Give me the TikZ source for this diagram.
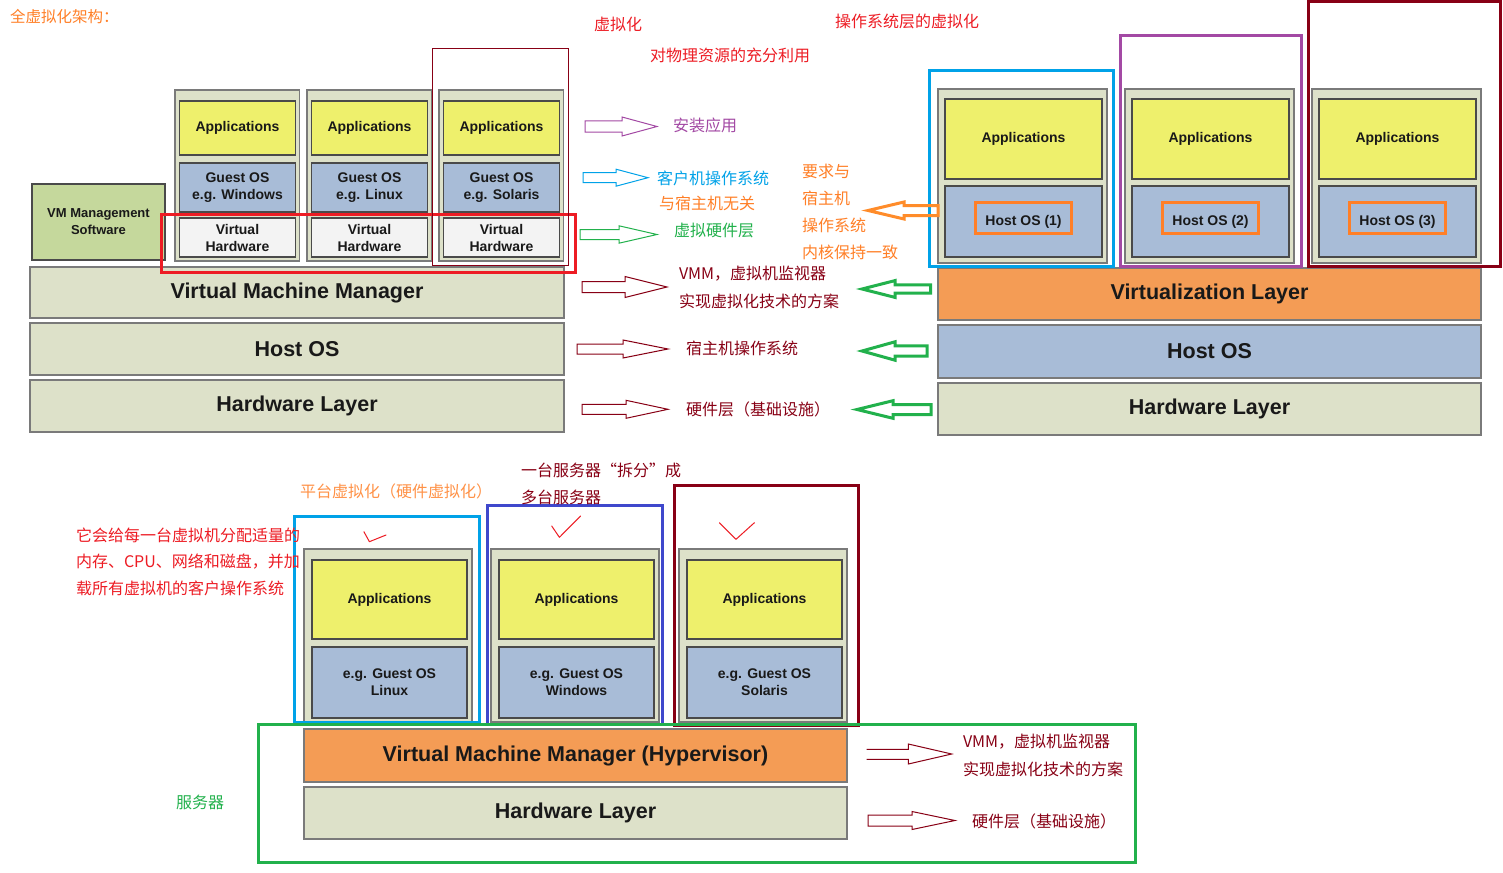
\documentclass[tikz,border=0pt]{standalone}
\usepackage{fontspec}
\setmainfont{Liberation Sans}
\newfontfamily\cjk{Noto Sans CJK SC}
\definecolor{pred}{HTML}{ED1C24}
\definecolor{pdred}{HTML}{880015}
\definecolor{porange}{HTML}{FF7F27}
\definecolor{ptorange}{HTML}{FF8C2A}
\definecolor{pgreen}{HTML}{22B14C}
\definecolor{pblue}{HTML}{00A2E8}
\definecolor{pindigo}{HTML}{3F48CC}
\definecolor{ppurple}{HTML}{A349A4}
\definecolor{cbg}{HTML}{DDE1C9}
\definecolor{cyel}{HTML}{EEF06C}
\definecolor{cblue}{HTML}{A8BCD7}
\definecolor{cwhite}{HTML}{F3F3F3}
\definecolor{corange}{HTML}{F49C55}
\definecolor{cgreenbox}{HTML}{C5D89C}
\definecolor{cgray}{HTML}{7A7A7A}
\definecolor{cdark}{HTML}{4A4A4A}
\newcommand\mybox[7]{\node[#1,anchor=north west,minimum width={(#5)-(#3)},minimum height={(#6)-(#4)}] (#2) at (#3,#4) {#7};}
\newcommand\harrowR[7]{\draw[#1] (#2,#5-#6) -- (#3,#5-#6) -- (#3,#5-#7) -- (#4,#5) -- (#3,#5+#7) -- (#3,#5+#6) -- (#2,#5+#6) -- cycle;}
\newcommand\harrowL[7]{\draw[#1] (#4,#5-#6) -- (#3,#5-#6) -- (#3,#5-#7) -- (#2,#5) -- (#3,#5+#7) -- (#3,#5+#6) -- (#4,#5+#6) -- cycle;}
\newcommand\topleftcol[3]{%
 \mybox{colbox}{#1}{#2}{90}{#2+124.5}{261}{}
 \mybox{appbox}{#1a}{#2+4.5}{101}{#2+120.5}{155}{Applications}
 \mybox{osbox}{#1g}{#2+4.5}{163}{#2+120.5}{212}{Guest OS\\#3}
 \mybox{vhbox}{#1h}{#2+4.5}{218}{#2+120.5}{257}{Virtual\\Hardware}}
\newcommand\toprightcol[3]{%
 \mybox{colbox}{#1}{#2}{89}{#2+169}{263}{}
 \mybox{appbox}{#1a}{#2+7}{99}{#2+164}{179}{Applications}
 \mybox{osbox}{#1g}{#2+7}{186}{#2+164}{257}{Host OS (#3)}
 \mybox{annot,draw=porange}{#1o}{#2+37}{202}{#2+133}{233}{}}
\newcommand\botcol[3]{%
 \mybox{colbox}{#1}{#2}{549}{#2+168}{722}{}
 \mybox{appbox}{#1a}{#2+8}{560}{#2+163}{639}{Applications}
 \mybox{osbox}{#1g}{#2+8}{647}{#2+163}{718}{e.g. Guest OS\\#3}}
\tikzset{
 base/.style={inner sep=0pt,outer sep=0pt,align=center,text=black!90,font=\fontsize{14}{17}\selectfont\bfseries},
 colbox/.style={base,draw=cgray,line width=1.5pt,fill=cbg},
 appbox/.style={base,draw=cdark,line width=1.5pt,fill=cyel},
 osbox/.style={base,draw=cdark,line width=1.5pt,fill=cblue},
 vhbox/.style={base,draw=cdark,line width=1.5pt,fill=cwhite},
 mgbox/.style={base,draw=cdark,line width=1.5pt,fill=cgreenbox,font=\fontsize{13}{17}\selectfont\bfseries},
 barbox/.style={base,draw=cgray,line width=1.5pt,fill=cbg,font=\fontsize{21.5}{24}\selectfont\bfseries},
 annot/.style={draw,line width=3pt,inner sep=0pt,outer sep=0pt},
 cn/.style={inner sep=0pt,outer sep=0pt,anchor=west,font=\cjk\fontsize{16}{18}\selectfont},
 thinar/.style={line width=1pt},
 thickar/.style={line width=3pt},
 tick/.style={pred,line width=1pt,line cap=round,line join=round},
}
\begin{document}
\begin{tikzpicture}[x=1pt,y=-1pt]
\useasboundingbox[fill=white] (0,0) rectangle (1503,872);

% ---------- top-left: full virtualization ----------
\mybox{mgbox}{vmms}{32}{184}{165}{260}{VM Management\\Software}
\topleftcol{ca}{175}{e.g. Windows}
\topleftcol{cb}{307}{e.g. Linux}
\topleftcol{cc}{439}{e.g. Solaris}
\mybox{barbox}{vmm}{30}{267}{564}{318}{Virtual Machine Manager}
\mybox{barbox}{hos}{30}{323}{564}{375}{Host OS}
\mybox{barbox}{hwl}{30}{380}{564}{432}{Hardware Layer}
\mybox{annot,draw=pred}{redbox}{161}{214}{575}{272}{}
\mybox{annot,draw=pdred,line width=1pt}{thinbox}{432}{49}{568}{265}{}

% ---------- top-right: OS-level virtualization ----------
\toprightcol{ra}{938}{1}
\toprightcol{rb}{1125}{2}
\toprightcol{rc}{1312}{3}
\mybox{barbox,fill=corange}{vl}{938}{268}{1481}{320}{Virtualization Layer}
\mybox{barbox,fill=cblue}{hos2}{938}{325}{1481}{378}{Host OS}
\mybox{barbox}{hw2}{938}{383}{1481}{435}{Hardware Layer}
\mybox{annot,draw=pblue}{bbox1}{929}{71}{1113}{266}{}
\mybox{annot,draw=ppurple}{bbox2}{1120}{36}{1301}{266}{}
\mybox{annot,draw=pdred}{bbox3}{1308}{1.5}{1500}{266}{}

% ---------- bottom: platform virtualization ----------
\botcol{ba}{304}{Linux}
\botcol{bb}{491}{Windows}
\botcol{bc}{679}{Solaris}
\mybox{barbox,fill=corange}{hyp}{304}{729}{847}{782}{Virtual Machine Manager (Hypervisor)}
\mybox{barbox}{hw3}{304}{787}{847}{839}{Hardware Layer}
\mybox{annot,draw=pblue}{gbox1}{294}{516}{479}{722}{}
\mybox{annot,draw=pindigo}{gbox2}{487}{505}{662}{724}{}
\mybox{annot,draw=pdred}{gbox3}{674}{485}{858}{725}{}
\mybox{annot,draw=pgreen}{srv}{258}{724}{1135}{862}{}

% ---------- annotation texts ----------
\node[cn,text=porange,font=\cjk\fontsize{15.5}{17}\selectfont] (t0) at (10,17) {全虚拟化架构：};
\node[cn,text=pred] (t1) at (594,24) {虚拟化};
\node[cn,text=pred] (t2) at (650,55) {对物理资源的充分利用};
\node[cn,text=pred] (t3) at (835,21) {操作系统层的虚拟化};
\node[cn,text=ppurple] (t4) at (673,125) {安装应用};
\node[cn,text=pblue] (t5) at (657,178) {客户机操作系统};
\node[cn,text=porange] (t6) at (659,203) {与宿主机无关};
\node[cn,text=pgreen] (t7) at (674,230) {虚拟硬件层};
\node[cn,text=pdred] (t8) at (679,274) {VMM，虚拟机监视器};
\node[cn,text=pdred] (t9) at (679,301) {实现虚拟化技术的方案};
\node[cn,text=pdred] (t10) at (686,348) {宿主机操作系统};
\node[cn,text=pdred] (t11) at (686,409) {硬件层（基础设施）};
\node[cn,text=porange] (k1) at (802,171) {要求与};
\node[cn,text=porange] (k2) at (802,198) {宿主机};
\node[cn,text=porange] (k3) at (802,225) {操作系统};
\node[cn,text=porange] (k4) at (802,252) {内核保持一致};
\node[cn,text=porange!85!white] (b1) at (300,491) {平台虚拟化（硬件虚拟化）};
\node[cn,text=pdred] (b2) at (521,470) {一台服务器“拆分”成};
\node[cn,text=pdred] (b3) at (521,497) {多台服务器};
\node[cn,text=pred] (b4) at (76,535) {它会给每一台虚拟机分配适量的};
\node[cn,text=pred] (b5) at (76,562) {内存、CPU、网络和磁盘，并加};
\node[cn,text=pred] (b6) at (76,588) {载所有虚拟机的客户操作系统};
\node[cn,text=pgreen] (b7) at (176,802) {服务器};
\node[cn,text=pdred] (b8) at (963,742) {VMM，虚拟机监视器};
\node[cn,text=pdred] (b9) at (963,769) {实现虚拟化技术的方案};
\node[cn,text=pdred] (b10) at (972,821) {硬件层（基础设施）};

% ---------- hollow arrows ----------
\harrowR{thinar,ppurple}{585}{622}{657}{126.5}{5.5}{9.5}
\harrowR{thinar,pblue}{583}{616}{648}{177.7}{5}{8.5}
\harrowR{thinar,pgreen}{580}{619}{657}{234.5}{5}{8.7}
\harrowR{thinar,pdred}{582}{625}{667}{287}{5.5}{10.5}
\harrowR{thinar,pdred}{577}{623}{668}{349}{5}{9}
\harrowR{thinar,pdred}{582}{626}{668}{409.3}{5}{9}
\draw[thinar,pdred] (866.7,749.3) -- (908.3,749.3) -- (908.3,744) -- (951.7,754) -- (908.3,764) -- (908.3,759.3) -- (866.7,759.3);
\harrowR{thinar,pdred}{868}{912}{955}{820.5}{5.5}{9}
\harrowL{thickar,ptorange}{868}{904}{938}{210.5}{5}{8.5}
\harrowL{thickar,pgreen}{862}{895}{930.7}{289}{4.2}{8.4}
\harrowL{thickar,pgreen}{862}{895}{927}{351}{5.2}{9.2}
\harrowL{thickar,pgreen}{857}{893}{931}{409.5}{5}{8.8}

% ---------- tick marks ----------
\draw[tick] (363.9,531.7) -- (369.4,541.7) -- (386,535);
\draw[tick] (551.7,526) -- (559.4,537.3) -- (580.6,516);
\draw[tick] (719.4,522.7) -- (736,539.3) -- (754.4,522.7);
\end{tikzpicture}
\end{document}
